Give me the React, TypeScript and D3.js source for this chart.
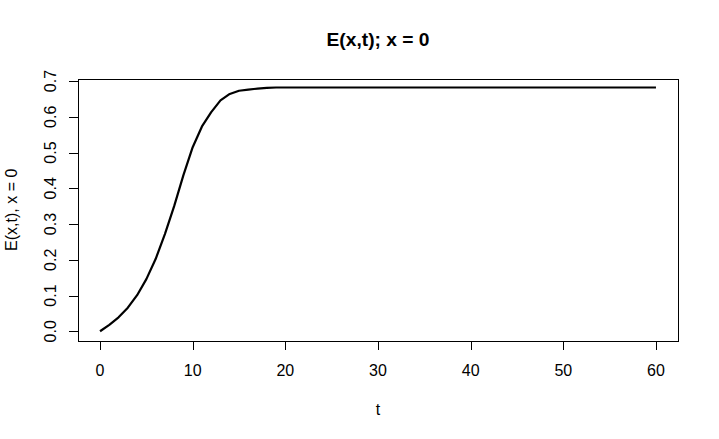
import React, { useEffect, useRef } from 'react';
import * as d3 from 'd3';

// time steps (t) and E(x,t) at x = 0
const tValues = [
  0, 1, 2, 3, 4, 5, 6, 7, 8, 9,
  10, 11, 12, 13, 14, 15, 16, 17, 18, 19,
  20, 21, 22, 23, 24, 25, 26, 27, 28, 29,
  30, 31, 32, 33, 34, 35, 36, 37, 38, 39,
  40, 41, 42, 43, 44, 45, 46, 47, 48, 49,
  50, 51, 52, 53, 54, 55, 56, 57, 58, 59, 60,
];
const eValues = [
  0.0, 0.018, 0.039, 0.066, 0.101, 0.146, 0.202, 0.272, 0.35, 0.437,
  0.515, 0.573, 0.613, 0.646, 0.664, 0.673, 0.676, 0.679, 0.681, 0.682,
  0.682, 0.682, 0.682, 0.682, 0.682, 0.682, 0.682, 0.682, 0.682, 0.682,
  0.682, 0.682, 0.682, 0.682, 0.682, 0.682, 0.682, 0.682, 0.682, 0.682,
  0.682, 0.682, 0.682, 0.682, 0.682, 0.682, 0.682, 0.682, 0.682, 0.682,
  0.682, 0.682, 0.682, 0.682, 0.682, 0.682, 0.682, 0.682, 0.682, 0.682, 0.682,
];
const xTicks = [0, 10, 20, 30, 40, 50, 60];
const yTicks = [0, 0.1, 0.2, 0.3, 0.4, 0.5, 0.6, 0.7];

const title = 'E(x,t); x = 0';
const xLabel = 't';
const yLabel = 'E(x,t), x = 0';

const FONT = 'Arial, "Liberation Sans", sans-serif';

export default function App() {
  const svgRef = useRef<SVGSVGElement>(null);

  useEffect(() => {
    if (!svgRef.current) return;
    const svg = d3.select(svgRef.current);
    svg.selectAll('*').remove();

    const left = 78, right = 678, top = 78.5, bottom = 341;

    // R style 4% padding of the data range
    const x = d3.scaleLinear().domain([-2.4, 62.4]).range([left - 0.2, right + 0.2]);
    const y = d3.scaleLinear().domain([-0.0272, 0.7072]).range([bottom, top]);

    svg.append('rect')
      .attr('x', left + 0.5)
      .attr('y', Math.round(top) + 0.5)
      .attr('width', right - left)
      .attr('height', bottom - Math.round(top))
      .attr('fill', 'none')
      .attr('stroke', '#000')
      .attr('stroke-width', 1);

    // x axis
    const gx = svg.append('g');
    gx.selectAll('line')
      .data(xTicks)
      .join('line')
      .attr('x1', d => Math.round(x(d)) + 0.5)
      .attr('x2', d => Math.round(x(d)) + 0.5)
      .attr('y1', bottom)
      .attr('y2', bottom + 9)
      .attr('stroke', '#000');
    gx.selectAll('text')
      .data(xTicks)
      .join('text')
      .attr('x', d => x(d))
      .attr('y', 376)
      .attr('text-anchor', 'middle')
      .style('font-family', FONT)
      .style('font-size', '16px')
      .text(d => String(d));

    // y axis
    const gy = svg.append('g');
    gy.selectAll('line')
      .data(yTicks)
      .join('line')
      .attr('x1', left - 9)
      .attr('x2', left + 0.5)
      .attr('y1', d => Math.round(y(d)) + 0.5)
      .attr('y2', d => Math.round(y(d)) + 0.5)
      .attr('stroke', '#000');
    gy.selectAll('text')
      .data(yTicks)
      .join('text')
      .attr('transform', d => `translate(56,${y(d)}) rotate(-90)`)
      .attr('text-anchor', 'middle')
      .style('font-family', FONT)
      .style('font-size', '16px')
      .text(d => d3.format('.1f')(d));

    // curve
    const line = d3.line<number>()
      .x((_, i) => x(tValues[i]))
      .y(d => y(d));

    svg.append('path')
      .datum(eValues)
      .attr('fill', 'none')
      .attr('stroke', '#000')
      .attr('stroke-width', 2.2)
      .attr('stroke-linejoin', 'round')
      .attr('d', line);

    // titles
    svg.append('text')
      .attr('x', (left + right) / 2)
      .attr('y', 46)
      .attr('text-anchor', 'middle')
      .style('font-family', FONT)
      .style('font-size', '19.2px')
      .style('font-weight', 'bold')
      .text(title);

    svg.append('text')
      .attr('x', (left + right) / 2)
      .attr('y', 414.7)
      .attr('text-anchor', 'middle')
      .style('font-family', FONT)
      .style('font-size', '16px')
      .text(xLabel);

    svg.append('text')
      .attr('transform', `translate(16.7,${(top + bottom) / 2}) rotate(-90)`)
      .attr('text-anchor', 'middle')
      .style('font-family', FONT)
      .style('font-size', '16px')
      .text(yLabel);
  }, []);

  return (
    <svg
      ref={svgRef}
      width={719}
      height={439}
      style={{ position: 'absolute', left: 0, top: 0, background: '#fff' }}
    />
  );
}
